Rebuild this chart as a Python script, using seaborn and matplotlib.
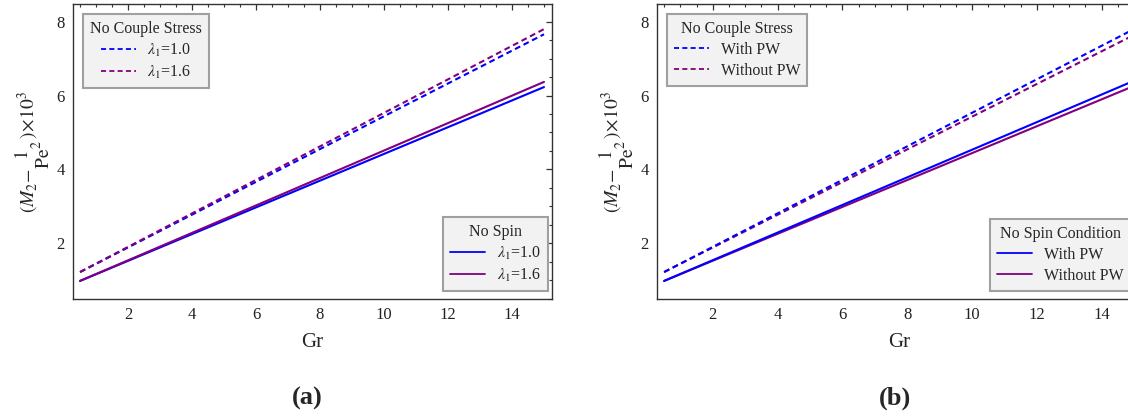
import matplotlib
matplotlib.use("Agg")
import matplotlib.pyplot as plt
import seaborn as sns
import numpy as np
from matplotlib.lines import Line2D
from matplotlib.ticker import MultipleLocator

# ---- data ----
gr = [0.5, 15.0]
# panel (a)
a_cs_l10 = [1.22, 7.66]   # No Couple Stress, lambda1 = 1.0 (dashed blue)
a_cs_l16 = [1.22, 7.80]   # No Couple Stress, lambda1 = 1.6 (dashed purple)
a_ns_l10 = [0.98, 6.23]   # No Spin, lambda1 = 1.0 (solid blue)
a_ns_l16 = [0.98, 6.37]   # No Spin, lambda1 = 1.6 (solid purple)
# panel (b)
b_cs_with = [1.22, 7.80]
b_cs_without = [1.22, 7.64]
b_ns_with = [0.98, 6.40]
b_ns_without = [0.98, 6.26]

a_labels = [r"$\lambda_1$=1.0", r"$\lambda_1$=1.6"]
b_labels = ["With PW", "Without PW"]
xticks = [2, 4, 6, 8, 10, 12, 14]
yticks = [2, 4, 6, 8]

BLUE = "#0000ff"
PURPLE = "#800080"
DASH = (0, (2.8, 1.8))

sns.set_style("white")
plt.rcParams["font.family"] = ["Liberation Serif", "DejaVu Serif"]
plt.rcParams["mathtext.fontset"] = "stix"
plt.rcParams["font.size"] = 11

fig = plt.figure(figsize=(11.28, 4.19), dpi=100)
W, H = 1128.0, 419.0
ax_top = 4
ax_bot = 299
axA = fig.add_axes([73 / W, 1 - ax_bot / H, 479 / W, (ax_bot - ax_top) / H])
axB = fig.add_axes([657 / W, 1 - ax_bot / H, 485 / W, (ax_bot - ax_top) / H])

ylabel = r"$(M_2\!-\!\genfrac{}{}{0}{0}{1}{\mathrm{Pe}^2})\!\times\!10^3$"


def style_axes(ax):
    ax.set_xlim(0.28, 15.25)
    ax.set_ylim(0.49, 8.48)
    ax.set_xticks(xticks)
    ax.set_yticks(yticks)
    ax.xaxis.set_minor_locator(MultipleLocator(0.5))
    ax.yaxis.set_minor_locator(MultipleLocator(0.5))
    ax.tick_params(which="both", direction="in", top=True, right=True,
                   color="#333333", labelsize=12, labelcolor="#222222")
    ax.tick_params(which="major", length=4.5, width=0.9, pad=6)
    ax.tick_params(which="minor", length=2.3, width=0.8)
    for s in ax.spines.values():
        s.set_color("#333333")
        s.set_linewidth(1.0)
    ax.set_xlabel("Gr", fontsize=15, labelpad=7)
    ax.set_ylabel(ylabel, fontsize=14, labelpad=3)


def make_handles(dashed):
    ls = DASH if dashed else "-"
    return [Line2D([], [], color=BLUE, lw=1.3, linestyle=ls),
            Line2D([], [], color=PURPLE, lw=1.3, linestyle=ls)]


common = dict(fontsize=11.5, title_fontsize=11.5, frameon=True, fancybox=False,
              framealpha=1, handlelength=2.2, handletextpad=0.7,
              labelspacing=0.3, borderpad=0.45, borderaxespad=0)


def frame_style(lg):
    fr = lg.get_frame()
    fr.set_facecolor("#f2f2f2")
    fr.set_edgecolor("#a0a0a0")
    fr.set_linewidth(1.5)


# ---- panel (a) ----
sns.lineplot(x=gr, y=a_ns_l10, ax=axA, color=BLUE, lw=1.5)
sns.lineplot(x=gr, y=a_ns_l16, ax=axA, color=PURPLE, lw=1.5)
sns.lineplot(x=gr, y=a_cs_l10, ax=axA, color=BLUE, lw=1.5, linestyle=DASH)
sns.lineplot(x=gr, y=a_cs_l16, ax=axA, color=PURPLE, lw=1.5, linestyle=DASH)
style_axes(axA)
lA1 = axA.legend(make_handles(True), a_labels, title="No Couple Stress",
                 loc="upper left", bbox_to_anchor=(10 / 479, 1 - 10 / 295), **common)
lA2 = axA.legend(make_handles(False), a_labels, title="No Spin",
                 loc="lower right", bbox_to_anchor=(1 - 4 / 479, 8 / 295), **common)
frame_style(lA1); frame_style(lA2)
axA.add_artist(lA1)

# ---- panel (b) ----
sns.lineplot(x=gr, y=b_ns_without, ax=axB, color=PURPLE, lw=1.5)
sns.lineplot(x=gr, y=b_ns_with, ax=axB, color=BLUE, lw=1.5)
sns.lineplot(x=gr, y=b_cs_without, ax=axB, color=PURPLE, lw=1.5, linestyle=DASH)
sns.lineplot(x=gr, y=b_cs_with, ax=axB, color=BLUE, lw=1.5, linestyle=DASH)
style_axes(axB)
lB1 = axB.legend(make_handles(True), b_labels, title="No Couple Stress",
                 loc="upper left", bbox_to_anchor=(10 / 485, 1 - 10 / 295), **common)
lB2 = axB.legend(make_handles(False), b_labels, title="No Spin Condition",
                 loc="lower left", bbox_to_anchor=((990 - 657) / 485, 8 / 295), **common)
frame_style(lB1); frame_style(lB2)
axB.add_artist(lB1)

fig.text(307 / W, 1 - 398 / H, "(a)", fontsize=19, fontweight="bold",
         ha="center", va="center")
fig.text(895 / W, 1 - 398 / H, "(b)", fontsize=19, fontweight="bold",
         ha="center", va="center")

fig.savefig("out.png", dpi=100)
